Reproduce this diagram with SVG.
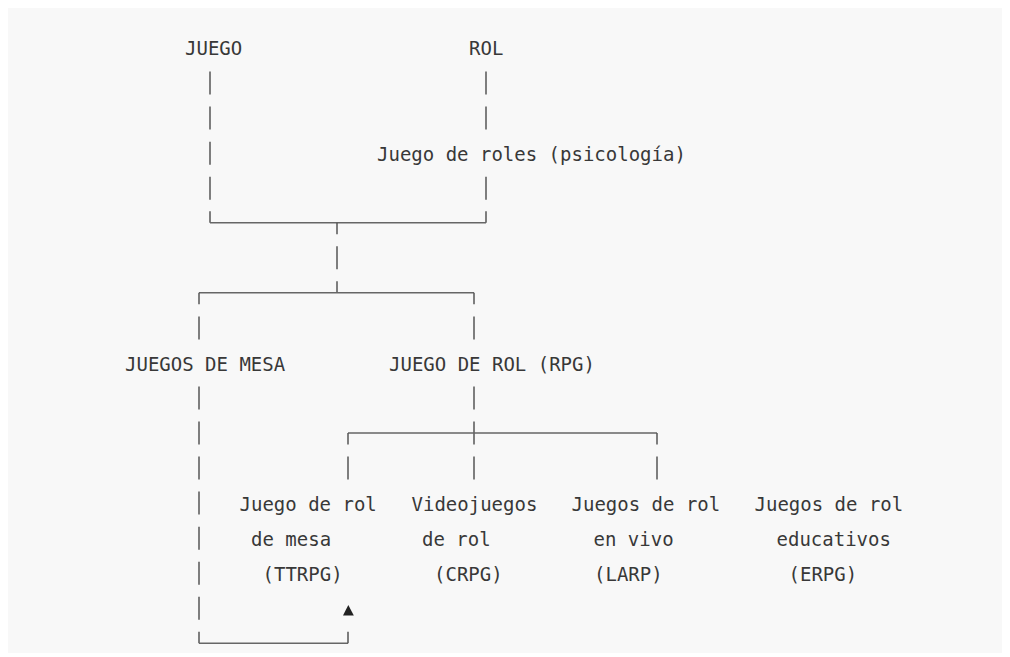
<svg xmlns="http://www.w3.org/2000/svg" width="1010" height="657" viewBox="0 0 1010 657">
  <style>
    .t { font-family: "DejaVu Sans Mono", "Liberation Mono", monospace; font-size: 19px; fill: #383838; }
    .c { stroke: #555; stroke-width: 1.5; fill: none; }
    .h { stroke: #666; stroke-width: 1.5; fill: none; }
  </style>
  <rect x="0" y="0" width="1010" height="657" fill="#ffffff"/>
  <rect x="8" y="8" width="994" height="645" fill="#f8f8f8"/>

  <g id="connectors">
    <path class="c" d="M210,71.6 V94.6 M210,106.6 V129.6 M210,141.7 V164.7 M210,176.7 V199.7 M210,211.2 V222.7"/>
    <path class="c" d="M486,71.6 V94.6 M486,106.6 V129.6 M486,176.7 V199.7 M486,211.2 V222.7"/>
    <path class="h" d="M210,222.7 H486"/>
    <path class="c" d="M337,222.7 V234.2 M337,246.3 V269.3 M337,281.3 V292.8"/>
    <path class="h" d="M199,292.8 H474"/>
    <path class="c" d="M199,292.8 V304.3 M199,316.4 V339.4"/>
    <path class="c" d="M474,292.8 V304.3 M474,316.4 V339.4"/>
    <path class="c" d="M199,386.5 V409.5 M199,421.5 V444.5 M199,456.6 V479.6 M199,491.6 V514.6 M199,526.7 V549.7 M199,561.7 V584.7 M199,596.8 V619.8 M199,631.8 V643.3"/>
    <path class="h" d="M199,643.3 H348"/>
    <path class="c" d="M348,631.8 V643.3"/>
    <polygon points="348.3,605 343,615.6 353.8,615.6" fill="#222"/>
    <path class="c" d="M474,386.5 V409.5 M474,421.5 V444.5 M474,456.6 V479.6"/>
    <path class="h" d="M348,433 H657"/>
    <path class="c" d="M348,433 V444.5 M348,456.6 V479.6"/>
    <path class="c" d="M657,433 V444.5 M657,456.6 V479.6"/>
  </g>

  <g id="juego"><text class="t" x="185" y="55">JUEGO</text></g>
  <g id="rol"><text class="t" x="469" y="55">ROL</text></g>
  <g id="psicologia"><text class="t" x="377" y="160.5">Juego de roles (psicología)</text></g>
  <g id="juegos-de-mesa"><text class="t" x="125" y="370.5">JUEGOS DE MESA</text></g>
  <g id="juego-de-rol"><text class="t" x="389" y="370.5">JUEGO DE ROL (RPG)</text></g>
  <g id="ttrpg">
    <text class="t" x="239.5" y="510.5">Juego de rol</text>
    <text class="t" x="251" y="545.5">de mesa</text>
    <text class="t" x="262.5" y="580.5">(TTRPG)</text>
  </g>
  <g id="crpg">
    <text class="t" x="411.5" y="510.5">Videojuegos</text>
    <text class="t" x="422" y="545.5">de rol</text>
    <text class="t" x="434" y="580.5">(CRPG)</text>
  </g>
  <g id="larp">
    <text class="t" x="571.5" y="510.5">Juegos de rol</text>
    <text class="t" x="593.5" y="545.5">en vivo</text>
    <text class="t" x="594" y="580.5">(LARP)</text>
  </g>
  <g id="erpg">
    <text class="t" x="754.5" y="510.5">Juegos de rol</text>
    <text class="t" x="776.5" y="545.5">educativos</text>
    <text class="t" x="788.5" y="580.5">(ERPG)</text>
  </g>
</svg>
